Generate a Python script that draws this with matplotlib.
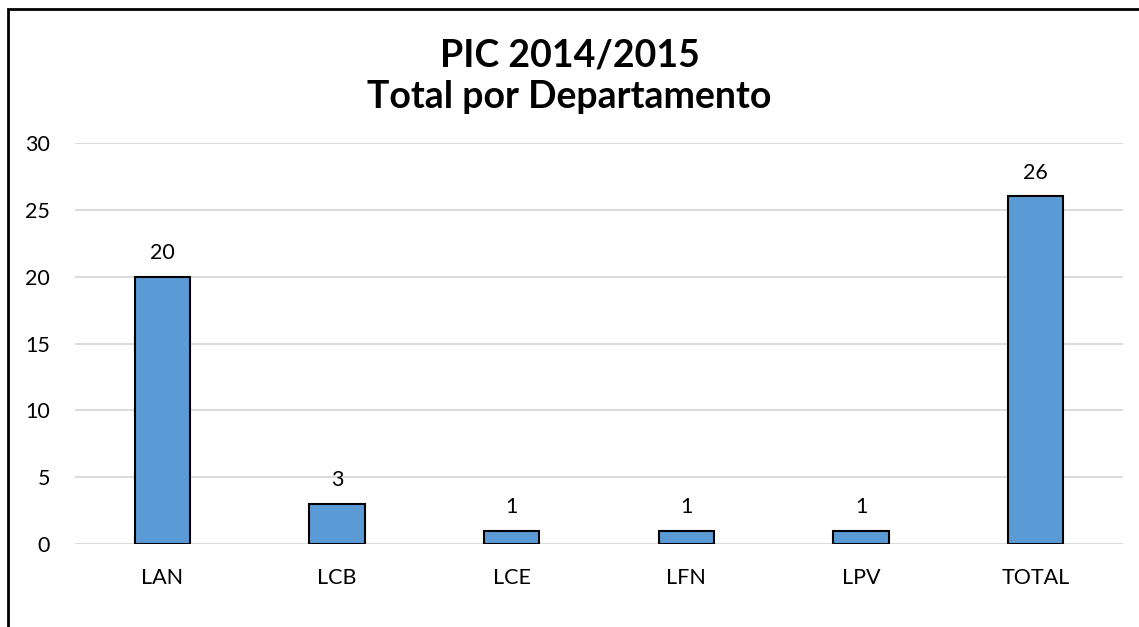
import matplotlib
matplotlib.use("Agg")
import matplotlib.pyplot as plt
from matplotlib.patches import Rectangle

categories = ["LAN", "LCB", "LCE", "LFN", "LPV", "TOTAL"]
values = [20, 3, 1, 1, 1, 26]
yticks = [0, 5, 10, 15, 20, 25, 30]
title = "PIC 2014/2015\nTotal por Departamento"

plt.rcParams['font.family'] = ['Lato', 'DejaVu Sans']

W, H = 1139, 627
fig = plt.figure(figsize=(W / 100, H / 100), dpi=100)
fig.patch.set_facecolor("white")

ax = fig.add_axes([75 / W, (H - 544) / H, (1123 - 75) / W, (544 - 143) / H])
x = list(range(len(categories)))
ax.bar(x, values, width=0.315, color="#5b9bd5", edgecolor="black",
       linewidth=1.5, zorder=3)
ax.set_xlim(-0.5, len(categories) - 0.5)
ax.set_ylim(0, 30)
ax.set_yticks(yticks)
ax.set_xticks(x)
ax.set_xticklabels(categories)
ax.tick_params(axis="both", length=0, labelsize=15.5, colors="black")
ax.tick_params(axis="y", pad=18)
ax.tick_params(axis="x", pad=17)
ax.grid(axis="y", color="#d9d9d9", linewidth=1.3, zorder=0)
for s in ax.spines.values():
    s.set_visible(False)

for xi, v in zip(x, values):
    ax.annotate(str(v), (xi, v), xytext=(0, 10), textcoords="offset points",
                ha="center", va="bottom", fontsize=15.5)

fig.text(0.5, 1 - 76 / H, title, ha="center", va="center", fontsize=27,
         fontweight="bold", linespacing=1.25)

fig.patches.append(Rectangle((8 / W, -0.1), 2, 1 + 0.1 - 9 / H,
                             transform=fig.transFigure, fill=False,
                             edgecolor="black", linewidth=2, figure=fig))

fig.savefig("out.png", dpi=100)
